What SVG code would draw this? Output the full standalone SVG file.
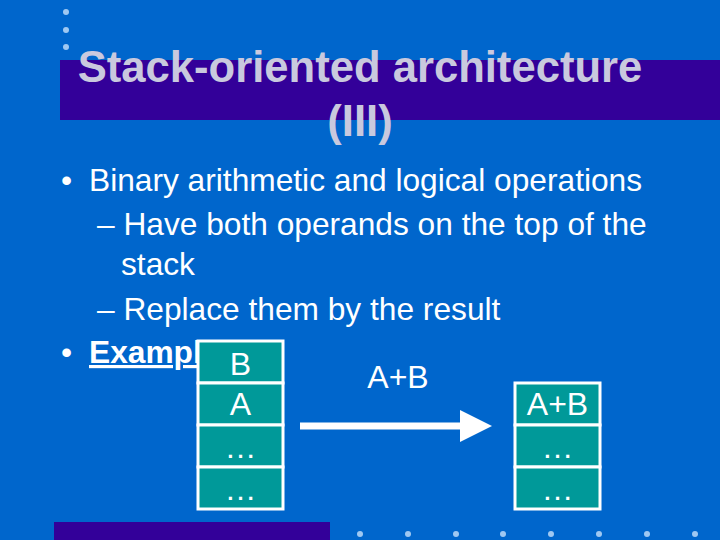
<svg xmlns="http://www.w3.org/2000/svg" width="720" height="540" viewBox="0 0 720 540">
<style>
.t{font-family:"Liberation Sans",Arial,sans-serif;font-size:31.7px;fill:#ffffff}
.title{font-family:"Liberation Sans",Arial,sans-serif;font-size:43.6px;font-weight:bold;fill:#C9C9DE;text-anchor:middle}
.cell{fill:#009999;stroke:#ffffff;stroke-width:3}
.ct{font-family:"Liberation Sans",Arial,sans-serif;font-size:32px;fill:#ffffff;text-anchor:middle}
.dot{fill:#9FC8F2}
</style>
<rect width="720" height="540" fill="#0066CC"/>
<rect x="60" y="60" width="660" height="60" fill="#330099"/>
<rect x="54" y="522" width="276" height="18" fill="#330099"/>
<g id="dots">
<circle class="dot" cx="66" cy="12" r="3"/>
<circle class="dot" cx="66" cy="30" r="3"/>
<circle class="dot" cx="66" cy="47" r="3"/>
<circle class="dot" cx="360" cy="534" r="3"/>
<circle class="dot" cx="408" cy="534" r="3"/>
<circle class="dot" cx="456" cy="534" r="3"/>
<circle class="dot" cx="503" cy="534" r="3"/>
<circle class="dot" cx="551" cy="534" r="3"/>
<circle class="dot" cx="599" cy="534" r="3"/>
<circle class="dot" cx="647" cy="534" r="3"/>
<circle class="dot" cx="695" cy="534" r="3"/>
</g>
<g id="title">
<text class="title" x="360" y="82">Stack-oriented architecture</text>
<text class="title" x="360" y="136">(III)</text>
</g>
<g id="bullets">
<text class="t" x="61" y="191">•</text>
<text class="t" x="89" y="191">Binary arithmetic and logical operations</text>
<text class="t" x="97" y="235">– Have both operands on the top of the</text>
<text class="t" x="121" y="275">stack</text>
<text class="t" x="97" y="320">– Replace them by the result</text>
<text class="t" x="61" y="363">•</text>
<text class="t" x="89" y="363" font-weight="bold" text-decoration="underline">Example</text>
</g>
<g id="stack-before">
<rect class="cell" x="198" y="341" width="85" height="42"/>
<rect class="cell" x="198" y="383" width="85" height="42"/>
<rect class="cell" x="198" y="425" width="85" height="42"/>
<rect class="cell" x="198" y="467" width="85" height="42"/>
<text class="ct" x="240.5" y="375">B</text>
<text class="ct" x="240.5" y="415">A</text>
<text class="ct" x="240.5" y="458">…</text>
<text class="ct" x="240.5" y="500">…</text>
</g>
<g id="stack-after">
<rect class="cell" x="515" y="383" width="85" height="42"/>
<rect class="cell" x="515" y="425" width="85" height="42"/>
<rect class="cell" x="515" y="467" width="85" height="42"/>
<text class="ct" x="557.5" y="415">A+B</text>
<text class="ct" x="557.5" y="458">…</text>
<text class="ct" x="557.5" y="500">…</text>
</g>
<g id="connectors">
<line x1="300" y1="426" x2="462" y2="426" stroke="#ffffff" stroke-width="7"/>
<polygon points="460,410 492,426 460,442" fill="#ffffff"/>
<text class="ct" x="398" y="388">A+B</text>
</g>
</svg>
